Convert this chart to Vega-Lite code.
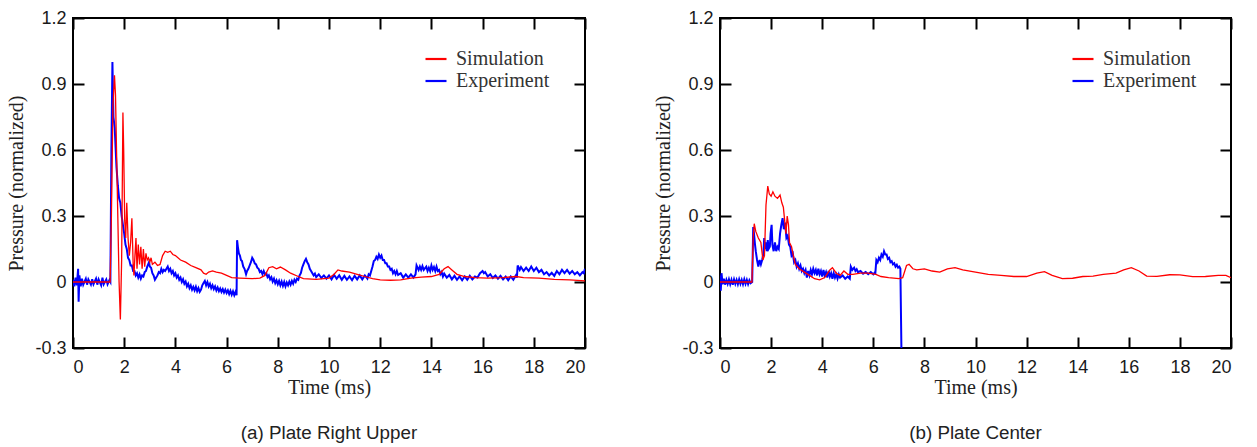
{
"$schema": "https://vega.github.io/schema/vega-lite/v6.json",
"padding": {"left": 5, "top": 8, "right": 5, "bottom": 5},
"bounds": "flush",
"spacing": 135,
"config": {
"view": {"stroke": "#000", "strokeWidth": 2},
"axis": {"domain": false, "grid": false, "tickColor": "#000", "tickWidth": 2, "tickSize": -11, "labelFont": "Liberation Sans", "labelFontSize": 18, "labelColor": "#1a1a1a", "titleFont": "Liberation Serif", "titleFontSize": 20, "titleFontWeight": "normal", "titleColor": "#222"},
"legend": {"orient": "none", "legendX": 351, "legendY": 29, "symbolType": "stroke", "symbolSize": 441, "symbolStrokeWidth": 2.2, "labelFont": "Liberation Serif", "labelFontSize": 20, "labelColor": "#333", "rowPadding": 0, "labelOffset": 8, "padding": 0},
"title": {"font": "Liberation Sans", "fontSize": 18.8, "fontWeight": "normal", "color": "#222", "orient": "bottom", "offset": 27}
},
"resolve": {"scale": {"color": "independent"}, "legend": {"color": "independent"}},
"datasets": {
"aS": [{"t":0,"v":0},{"t":1.45,"v":0},{"t":1.5,"v":0.3},{"t":1.56,"v":0.8},{"t":1.62,"v":0.94},{"t":1.66,"v":0.85},{"t":1.7,"v":0.6},{"t":1.75,"v":0.3},{"t":1.8,"v":0.0},{"t":1.85,"v":-0.17},{"t":1.9,"v":0.1},{"t":1.95,"v":0.77},{"t":1.98,"v":0.6},{"t":2.02,"v":0.28},{"t":2.06,"v":0.2},{"t":2.1,"v":0.36},{"t":2.15,"v":0.2},{"t":2.2,"v":0.12},{"t":2.25,"v":0.18},{"t":2.3,"v":0.29},{"t":2.35,"v":0.08},{"t":2.38,"v":0.03},{"t":2.42,"v":0.12},{"t":2.46,"v":0.2},{"t":2.5,"v":0.06},{"t":2.55,"v":0.17},{"t":2.6,"v":0.08},{"t":2.65,"v":0.16},{"t":2.7,"v":0.06},{"t":2.75,"v":0.15},{"t":2.8,"v":0.07},{"t":2.85,"v":0.13},{"t":2.9,"v":0.1},{"t":2.95,"v":0.11},{"t":3.0,"v":0.09},{"t":3.05,"v":0.11},{"t":3.1,"v":0.08},{"t":3.2,"v":0.09},{"t":3.3,"v":0.075},{"t":3.4,"v":0.08},{"t":3.5,"v":0.12},{"t":3.6,"v":0.14},{"t":3.7,"v":0.135},{"t":3.8,"v":0.14},{"t":3.9,"v":0.125},{"t":4.0,"v":0.12},{"t":4.2,"v":0.1},{"t":4.4,"v":0.09},{"t":4.6,"v":0.075},{"t":4.8,"v":0.065},{"t":5.0,"v":0.055},{"t":5.1,"v":0.04},{"t":5.2,"v":0.035},{"t":5.3,"v":0.045},{"t":5.45,"v":0.05},{"t":5.6,"v":0.045},{"t":5.8,"v":0.04},{"t":6.0,"v":0.03},{"t":6.2,"v":0.02},{"t":6.5,"v":0.018},{"t":7.0,"v":0.015},{"t":7.3,"v":0.018},{"t":7.5,"v":0.03},{"t":7.65,"v":0.065},{"t":7.8,"v":0.07},{"t":7.95,"v":0.06},{"t":8.1,"v":0.068},{"t":8.3,"v":0.055},{"t":8.5,"v":0.04},{"t":8.8,"v":0.025},{"t":9.0,"v":0.015},{"t":9.5,"v":0.012},{"t":10.0,"v":0.018},{"t":10.2,"v":0.035},{"t":10.35,"v":0.055},{"t":10.5,"v":0.05},{"t":10.8,"v":0.045},{"t":11.1,"v":0.035},{"t":11.4,"v":0.025},{"t":11.7,"v":0.015},{"t":12.0,"v":0.01},{"t":12.4,"v":0.008},{"t":12.8,"v":0.01},{"t":13.2,"v":0.018},{"t":13.6,"v":0.022},{"t":14.0,"v":0.025},{"t":14.3,"v":0.035},{"t":14.5,"v":0.06},{"t":14.65,"v":0.07},{"t":14.8,"v":0.055},{"t":15.0,"v":0.035},{"t":15.3,"v":0.025},{"t":15.7,"v":0.02},{"t":16.2,"v":0.018},{"t":16.8,"v":0.02},{"t":17.3,"v":0.025},{"t":17.6,"v":0.02},{"t":18.2,"v":0.018},{"t":18.8,"v":0.012},{"t":19.4,"v":0.01},{"t":20,"v":0.005}],
"aE": [{"t":0,"v":0.01},{"t":0.05,"v":-0.02},{"t":0.1,"v":0.02},{"t":0.15,"v":-0.015},{"t":0.2,"v":0.06},{"t":0.22,"v":-0.09},{"t":0.25,"v":0.03},{"t":0.3,"v":-0.02},{"t":0.35,"v":0.015},{"t":0.4,"v":-0.012},{"t":0.5,"v":0.015},{"t":0.55,"v":-0.012},{"t":0.6,"v":0.012},{"t":0.7,"v":-0.012},{"t":0.75,"v":0.012},{"t":0.8,"v":-0.01},{"t":0.9,"v":0.015},{"t":0.95,"v":-0.012},{"t":1.0,"v":0.012},{"t":1.1,"v":-0.015},{"t":1.15,"v":0.02},{"t":1.2,"v":-0.01},{"t":1.3,"v":0.012},{"t":1.35,"v":-0.01},{"t":1.42,"v":0.008},{"t":1.46,"v":0.0},{"t":1.5,"v":0.6},{"t":1.54,"v":1.0},{"t":1.58,"v":0.75},{"t":1.63,"v":0.7},{"t":1.66,"v":0.62},{"t":1.7,"v":0.52},{"t":1.75,"v":0.44},{"t":1.8,"v":0.38},{"t":1.85,"v":0.36},{"t":1.9,"v":0.3},{"t":1.95,"v":0.26},{"t":2.0,"v":0.22},{"t":2.05,"v":0.17},{"t":2.1,"v":0.15},{"t":2.15,"v":0.11},{"t":2.2,"v":0.1},{"t":2.25,"v":0.075},{"t":2.3,"v":0.075},{"t":2.35,"v":0.05},{"t":2.4,"v":0.05},{"t":2.45,"v":0.03},{"t":2.5,"v":0.04},{"t":2.55,"v":0.02},{"t":2.6,"v":0.035},{"t":2.65,"v":0.015},{"t":2.7,"v":0.03},{"t":2.75,"v":0.025},{"t":2.8,"v":0.045},{"t":2.85,"v":0.05},{"t":2.9,"v":0.07},{"t":2.97,"v":0.09},{"t":3.0,"v":0.07},{"t":3.05,"v":0.065},{"t":3.1,"v":0.04},{"t":3.15,"v":0.03},{"t":3.2,"v":0.01},{"t":3.25,"v":0.02},{"t":3.3,"v":0.03},{"t":3.35,"v":0.045},{"t":3.4,"v":0.04},{"t":3.45,"v":0.06},{"t":3.5,"v":0.045},{"t":3.55,"v":0.055},{"t":3.6,"v":0.05},{"t":3.7,"v":0.07},{"t":3.75,"v":0.05},{"t":3.8,"v":0.06},{"t":3.85,"v":0.04},{"t":3.9,"v":0.05},{"t":3.95,"v":0.03},{"t":4.0,"v":0.04},{"t":4.05,"v":0.02},{"t":4.1,"v":0.03},{"t":4.15,"v":0.01},{"t":4.2,"v":0.02},{"t":4.25,"v":0.0},{"t":4.3,"v":0.012},{"t":4.35,"v":-0.008},{"t":4.4,"v":0.002},{"t":4.45,"v":-0.02},{"t":4.5,"v":-0.008},{"t":4.55,"v":-0.028},{"t":4.6,"v":-0.015},{"t":4.65,"v":-0.035},{"t":4.7,"v":-0.022},{"t":4.75,"v":-0.038},{"t":4.8,"v":-0.022},{"t":4.85,"v":-0.042},{"t":4.9,"v":-0.028},{"t":4.95,"v":-0.045},{"t":5.0,"v":-0.035},{"t":5.05,"v":-0.015},{"t":5.1,"v":-0.005},{"t":5.15,"v":0.005},{"t":5.2,"v":-0.015},{"t":5.25,"v":0.0},{"t":5.3,"v":-0.02},{"t":5.35,"v":-0.008},{"t":5.4,"v":-0.028},{"t":5.45,"v":-0.015},{"t":5.5,"v":-0.032},{"t":5.55,"v":-0.02},{"t":5.6,"v":-0.038},{"t":5.65,"v":-0.025},{"t":5.7,"v":-0.042},{"t":5.75,"v":-0.03},{"t":5.8,"v":-0.045},{"t":5.85,"v":-0.032},{"t":5.9,"v":-0.048},{"t":5.95,"v":-0.035},{"t":6.0,"v":-0.05},{"t":6.05,"v":-0.038},{"t":6.1,"v":-0.055},{"t":6.15,"v":-0.04},{"t":6.2,"v":-0.058},{"t":6.25,"v":-0.042},{"t":6.3,"v":-0.06},{"t":6.35,"v":-0.045},{"t":6.39,"v":-0.06},{"t":6.41,"v":0.19},{"t":6.44,"v":0.16},{"t":6.48,"v":0.13},{"t":6.52,"v":0.12},{"t":6.56,"v":0.1},{"t":6.6,"v":0.095},{"t":6.65,"v":0.07},{"t":6.7,"v":0.06},{"t":6.76,"v":0.035},{"t":6.8,"v":0.05},{"t":6.85,"v":0.06},{"t":6.9,"v":0.075},{"t":6.95,"v":0.09},{"t":7.0,"v":0.11},{"t":7.05,"v":0.1},{"t":7.1,"v":0.085},{"t":7.15,"v":0.08},{"t":7.2,"v":0.065},{"t":7.25,"v":0.06},{"t":7.3,"v":0.045},{"t":7.35,"v":0.05},{"t":7.4,"v":0.035},{"t":7.45,"v":0.05},{"t":7.5,"v":0.035},{"t":7.55,"v":0.04},{"t":7.6,"v":0.022},{"t":7.65,"v":0.03},{"t":7.7,"v":0.012},{"t":7.75,"v":0.022},{"t":7.8,"v":0.002},{"t":7.85,"v":0.015},{"t":7.9,"v":-0.005},{"t":7.95,"v":0.008},{"t":8.0,"v":-0.01},{"t":8.05,"v":0.005},{"t":8.1,"v":-0.015},{"t":8.15,"v":0.002},{"t":8.2,"v":-0.018},{"t":8.25,"v":0.0},{"t":8.3,"v":-0.02},{"t":8.35,"v":-0.002},{"t":8.4,"v":-0.015},{"t":8.45,"v":0.002},{"t":8.5,"v":-0.012},{"t":8.55,"v":0.005},{"t":8.6,"v":-0.008},{"t":8.65,"v":0.01},{"t":8.7,"v":0.0},{"t":8.75,"v":0.015},{"t":8.8,"v":0.01},{"t":8.85,"v":0.03},{"t":8.9,"v":0.04},{"t":8.95,"v":0.065},{"t":9.0,"v":0.08},{"t":9.05,"v":0.095},{"t":9.1,"v":0.105},{"t":9.15,"v":0.09},{"t":9.2,"v":0.08},{"t":9.25,"v":0.06},{"t":9.3,"v":0.05},{"t":9.35,"v":0.04},{"t":9.4,"v":0.03},{"t":9.45,"v":0.038},{"t":9.5,"v":0.022},{"t":9.6,"v":0.035},{"t":9.7,"v":0.018},{"t":9.8,"v":0.03},{"t":9.9,"v":0.015},{"t":10.0,"v":0.03},{"t":10.1,"v":0.012},{"t":10.2,"v":0.032},{"t":10.3,"v":0.015},{"t":10.4,"v":0.03},{"t":10.5,"v":0.01},{"t":10.6,"v":0.028},{"t":10.7,"v":0.01},{"t":10.8,"v":0.025},{"t":10.9,"v":0.008},{"t":11.0,"v":0.028},{"t":11.1,"v":0.012},{"t":11.2,"v":0.03},{"t":11.3,"v":0.012},{"t":11.4,"v":0.03},{"t":11.5,"v":0.015},{"t":11.55,"v":0.035},{"t":11.6,"v":0.03},{"t":11.65,"v":0.05},{"t":11.7,"v":0.07},{"t":11.75,"v":0.095},{"t":11.8,"v":0.1},{"t":11.85,"v":0.115},{"t":11.9,"v":0.105},{"t":11.95,"v":0.125},{"t":12.0,"v":0.11},{"t":12.05,"v":0.12},{"t":12.1,"v":0.1},{"t":12.15,"v":0.1},{"t":12.2,"v":0.085},{"t":12.25,"v":0.085},{"t":12.3,"v":0.07},{"t":12.35,"v":0.07},{"t":12.4,"v":0.055},{"t":12.45,"v":0.06},{"t":12.5,"v":0.04},{"t":12.55,"v":0.05},{"t":12.6,"v":0.035},{"t":12.65,"v":0.05},{"t":12.7,"v":0.032},{"t":12.8,"v":0.04},{"t":12.9,"v":0.02},{"t":13.0,"v":0.035},{"t":13.1,"v":0.02},{"t":13.2,"v":0.035},{"t":13.3,"v":0.02},{"t":13.38,"v":0.035},{"t":13.42,"v":0.075},{"t":13.5,"v":0.055},{"t":13.55,"v":0.07},{"t":13.6,"v":0.055},{"t":13.65,"v":0.072},{"t":13.7,"v":0.055},{"t":13.8,"v":0.07},{"t":13.85,"v":0.05},{"t":13.9,"v":0.065},{"t":13.95,"v":0.05},{"t":14.0,"v":0.075},{"t":14.05,"v":0.055},{"t":14.1,"v":0.068},{"t":14.15,"v":0.05},{"t":14.2,"v":0.07},{"t":14.25,"v":0.05},{"t":14.3,"v":0.055},{"t":14.35,"v":0.035},{"t":14.4,"v":0.045},{"t":14.45,"v":0.025},{"t":14.5,"v":0.038},{"t":14.6,"v":0.02},{"t":14.7,"v":0.032},{"t":14.8,"v":0.012},{"t":14.9,"v":0.028},{"t":15.0,"v":0.01},{"t":15.1,"v":0.025},{"t":15.2,"v":0.008},{"t":15.3,"v":0.025},{"t":15.4,"v":0.01},{"t":15.5,"v":0.028},{"t":15.6,"v":0.012},{"t":15.7,"v":0.025},{"t":15.8,"v":0.02},{"t":15.9,"v":0.04},{"t":16.0,"v":0.05},{"t":16.05,"v":0.04},{"t":16.1,"v":0.045},{"t":16.2,"v":0.025},{"t":16.3,"v":0.035},{"t":16.4,"v":0.018},{"t":16.5,"v":0.03},{"t":16.6,"v":0.015},{"t":16.7,"v":0.028},{"t":16.8,"v":0.012},{"t":16.9,"v":0.025},{"t":17.0,"v":0.008},{"t":17.1,"v":0.025},{"t":17.2,"v":0.01},{"t":17.3,"v":0.03},{"t":17.34,"v":0.02},{"t":17.37,"v":0.075},{"t":17.45,"v":0.055},{"t":17.5,"v":0.068},{"t":17.6,"v":0.05},{"t":17.7,"v":0.065},{"t":17.8,"v":0.05},{"t":17.9,"v":0.07},{"t":18.0,"v":0.05},{"t":18.1,"v":0.065},{"t":18.2,"v":0.045},{"t":18.3,"v":0.055},{"t":18.4,"v":0.035},{"t":18.5,"v":0.045},{"t":18.6,"v":0.03},{"t":18.7,"v":0.042},{"t":18.8,"v":0.028},{"t":18.9,"v":0.05},{"t":19.0,"v":0.035},{"t":19.1,"v":0.055},{"t":19.2,"v":0.04},{"t":19.3,"v":0.055},{"t":19.4,"v":0.038},{"t":19.5,"v":0.05},{"t":19.6,"v":0.035},{"t":19.7,"v":0.045},{"t":19.8,"v":0.03},{"t":19.9,"v":0.045},{"t":19.95,"v":0.04},{"t":20.0,"v":0.06}],
"bS": [{"t":0,"v":0},{"t":1.25,"v":0},{"t":1.3,"v":0.2},{"t":1.34,"v":0.265},{"t":1.4,"v":0.23},{"t":1.5,"v":0.2},{"t":1.6,"v":0.18},{"t":1.68,"v":0.1},{"t":1.74,"v":0.12},{"t":1.8,"v":0.35},{"t":1.87,"v":0.436},{"t":1.93,"v":0.4},{"t":2.0,"v":0.39},{"t":2.07,"v":0.41},{"t":2.15,"v":0.39},{"t":2.25,"v":0.38},{"t":2.35,"v":0.395},{"t":2.42,"v":0.36},{"t":2.48,"v":0.34},{"t":2.53,"v":0.28},{"t":2.58,"v":0.22},{"t":2.63,"v":0.3},{"t":2.68,"v":0.26},{"t":2.72,"v":0.18},{"t":2.8,"v":0.16},{"t":2.87,"v":0.12},{"t":2.95,"v":0.08},{"t":3.1,"v":0.06},{"t":3.3,"v":0.045},{"t":3.5,"v":0.03},{"t":3.7,"v":0.015},{"t":3.9,"v":0.01},{"t":4.1,"v":0.02},{"t":4.3,"v":0.055},{"t":4.4,"v":0.065},{"t":4.55,"v":0.04},{"t":4.7,"v":0.03},{"t":4.85,"v":0.05},{"t":5.0,"v":0.035},{"t":5.2,"v":0.035},{"t":5.5,"v":0.04},{"t":5.8,"v":0.04},{"t":6.1,"v":0.035},{"t":6.3,"v":0.025},{"t":6.6,"v":0.02},{"t":7.0,"v":0.015},{"t":7.15,"v":0.02},{"t":7.3,"v":0.075},{"t":7.4,"v":0.08},{"t":7.55,"v":0.06},{"t":7.7,"v":0.055},{"t":8.0,"v":0.06},{"t":8.3,"v":0.05},{"t":8.6,"v":0.045},{"t":8.9,"v":0.06},{"t":9.2,"v":0.065},{"t":9.5,"v":0.055},{"t":10.0,"v":0.045},{"t":10.5,"v":0.035},{"t":11.0,"v":0.03},{"t":11.5,"v":0.025},{"t":12.0,"v":0.025},{"t":12.4,"v":0.04},{"t":12.7,"v":0.047},{"t":13.0,"v":0.03},{"t":13.4,"v":0.015},{"t":13.8,"v":0.017},{"t":14.2,"v":0.025},{"t":14.6,"v":0.027},{"t":15.0,"v":0.035},{"t":15.5,"v":0.04},{"t":15.8,"v":0.055},{"t":16.1,"v":0.065},{"t":16.4,"v":0.05},{"t":16.7,"v":0.027},{"t":17.1,"v":0.026},{"t":17.6,"v":0.033},{"t":18.0,"v":0.032},{"t":18.5,"v":0.024},{"t":19.0,"v":0.025},{"t":19.5,"v":0.03},{"t":19.8,"v":0.03},{"t":20,"v":0.02}],
"bE": [{"t":0,"v":0.03},{"t":0.03,"v":-0.04},{"t":0.06,"v":0.04},{"t":0.1,"v":-0.01},{"t":0.15,"v":0.015},{"t":0.2,"v":-0.012},{"t":0.25,"v":0.01},{"t":0.3,"v":-0.008},{"t":0.35,"v":0.012},{"t":0.4,"v":-0.01},{"t":0.45,"v":0.01},{"t":0.5,"v":-0.012},{"t":0.55,"v":0.012},{"t":0.6,"v":-0.008},{"t":0.65,"v":0.01},{"t":0.7,"v":-0.01},{"t":0.75,"v":0.012},{"t":0.8,"v":-0.008},{"t":0.85,"v":0.01},{"t":0.9,"v":-0.01},{"t":0.95,"v":0.012},{"t":1.0,"v":-0.008},{"t":1.05,"v":0.01},{"t":1.1,"v":-0.01},{"t":1.15,"v":0.008},{"t":1.2,"v":-0.005},{"t":1.26,"v":0.0},{"t":1.3,"v":0.25},{"t":1.33,"v":0.22},{"t":1.37,"v":0.17},{"t":1.4,"v":0.14},{"t":1.45,"v":0.1},{"t":1.5,"v":0.07},{"t":1.55,"v":0.1},{"t":1.6,"v":0.08},{"t":1.65,"v":0.1},{"t":1.7,"v":0.13},{"t":1.73,"v":0.2},{"t":1.76,"v":0.15},{"t":1.8,"v":0.18},{"t":1.83,"v":0.14},{"t":1.87,"v":0.19},{"t":1.9,"v":0.15},{"t":1.95,"v":0.16},{"t":1.98,"v":0.22},{"t":2.02,"v":0.26},{"t":2.05,"v":0.17},{"t":2.1,"v":0.14},{"t":2.15,"v":0.18},{"t":2.2,"v":0.14},{"t":2.25,"v":0.16},{"t":2.3,"v":0.15},{"t":2.35,"v":0.22},{"t":2.4,"v":0.26},{"t":2.45,"v":0.29},{"t":2.5,"v":0.24},{"t":2.55,"v":0.27},{"t":2.6,"v":0.2},{"t":2.65,"v":0.21},{"t":2.7,"v":0.17},{"t":2.75,"v":0.16},{"t":2.8,"v":0.12},{"t":2.85,"v":0.13},{"t":2.9,"v":0.09},{"t":2.95,"v":0.1},{"t":3.0,"v":0.07},{"t":3.05,"v":0.085},{"t":3.1,"v":0.06},{"t":3.15,"v":0.075},{"t":3.2,"v":0.05},{"t":3.25,"v":0.06},{"t":3.3,"v":0.04},{"t":3.35,"v":0.055},{"t":3.4,"v":0.02},{"t":3.45,"v":0.05},{"t":3.5,"v":0.03},{"t":3.55,"v":0.055},{"t":3.6,"v":0.035},{"t":3.65,"v":0.06},{"t":3.7,"v":0.04},{"t":3.75,"v":0.055},{"t":3.8,"v":0.03},{"t":3.85,"v":0.06},{"t":3.9,"v":0.035},{"t":3.95,"v":0.05},{"t":4.0,"v":0.025},{"t":4.05,"v":0.055},{"t":4.1,"v":0.03},{"t":4.15,"v":0.045},{"t":4.2,"v":0.02},{"t":4.25,"v":0.05},{"t":4.3,"v":0.025},{"t":4.35,"v":0.04},{"t":4.4,"v":0.015},{"t":4.45,"v":0.04},{"t":4.5,"v":0.02},{"t":4.55,"v":0.035},{"t":4.6,"v":0.015},{"t":4.65,"v":0.035},{"t":4.7,"v":0.02},{"t":4.8,"v":0.03},{"t":4.9,"v":0.015},{"t":5.0,"v":0.025},{"t":5.08,"v":0.015},{"t":5.12,"v":0.07},{"t":5.18,"v":0.055},{"t":5.25,"v":0.065},{"t":5.3,"v":0.05},{"t":5.35,"v":0.058},{"t":5.4,"v":0.045},{"t":5.5,"v":0.05},{"t":5.6,"v":0.038},{"t":5.7,"v":0.045},{"t":5.8,"v":0.035},{"t":5.9,"v":0.045},{"t":6.0,"v":0.035},{"t":6.05,"v":0.042},{"t":6.08,"v":0.04},{"t":6.12,"v":0.1},{"t":6.17,"v":0.09},{"t":6.22,"v":0.11},{"t":6.27,"v":0.1},{"t":6.32,"v":0.125},{"t":6.37,"v":0.115},{"t":6.42,"v":0.14},{"t":6.47,"v":0.125},{"t":6.52,"v":0.125},{"t":6.57,"v":0.105},{"t":6.62,"v":0.11},{"t":6.67,"v":0.09},{"t":6.72,"v":0.095},{"t":6.77,"v":0.08},{"t":6.82,"v":0.085},{"t":6.87,"v":0.07},{"t":6.92,"v":0.078},{"t":6.97,"v":0.065},{"t":7.02,"v":0.07},{"t":7.06,"v":0.06},{"t":7.1,"v":-0.3}]
},
"hconcat": [
{
"width": 512, "height": 330,
"title": {"text": "(a) Plate Right Upper"},
"layer": [
{"data": {"name": "aE"}, "mark": {"type": "line", "strokeWidth": 2, "clip": true},
"encoding": {
"x": {"field": "t", "type": "quantitative", "scale": {"domain": [0, 20], "nice": false}, "axis": {"orient": "bottom", "values": [0,2,4,6,8,10,12,14,16,18,20], "title": "Time (ms)", "labelPadding": 21, "titlePadding": 1}},
"y": {"field": "v", "type": "quantitative", "scale": {"domain": [-0.3, 1.2], "nice": false, "zero": false}, "axis": {"orient": "left", "values": [-0.3,0,0.3,0.6,0.9,1.2], "labelExpr": "datum.value < 0 ? '-' + format(-datum.value, '.1f') : (datum.value == 0 ? '0' : format(datum.value, '.1f'))", "labelPadding": 18, "title": "Pressure (normalized)", "titlePadding": 8}},
"color": {"datum": "Experiment", "type": "nominal", "scale": {"domain": ["Simulation", "Experiment"], "range": ["#ff0000", "#0000ff"]}, "legend": {"title": null, "rowPadding": 0, "symbolSize": 441}}
}},
{"data": {"name": "aS"}, "mark": {"type": "line", "strokeWidth": 1.3, "clip": true},
"encoding": {
"x": {"field": "t", "type": "quantitative", "axis": {"orient": "top", "values": [0,2,4,6,8,10,12,14,16,18,20], "labels": false, "title": null}},
"y": {"field": "v", "type": "quantitative", "axis": {"orient": "right", "values": [-0.3,0,0.3,0.6,0.9,1.2], "labels": false, "title": null}},
"color": {"datum": "Simulation", "type": "nominal"}
}}
],
"resolve": {"axis": {"x": "independent", "y": "independent"}}
},
{
"width": 511, "height": 330,
"title": {"text": "(b) Plate Center"},
"layer": [
{"data": {"name": "bE"}, "mark": {"type": "line", "strokeWidth": 2, "clip": true},
"encoding": {
"x": {"field": "t", "type": "quantitative", "scale": {"domain": [0, 20], "nice": false}, "axis": {"orient": "bottom", "values": [0,2,4,6,8,10,12,14,16,18,20], "title": "Time (ms)", "labelPadding": 21, "titlePadding": 1}},
"y": {"field": "v", "type": "quantitative", "scale": {"domain": [-0.3, 1.2], "nice": false, "zero": false}, "axis": {"orient": "left", "values": [-0.3,0,0.3,0.6,0.9,1.2], "labelExpr": "datum.value < 0 ? '-' + format(-datum.value, '.1f') : (datum.value == 0 ? '0' : format(datum.value, '.1f'))", "labelPadding": 18, "title": "Pressure (normalized)", "titlePadding": 8}},
"color": {"datum": "Experiment", "type": "nominal", "scale": {"domain": ["Simulation", "Experiment"], "range": ["#ff0000", "#0000ff"]}, "legend": {"title": null, "rowPadding": 0, "symbolSize": 441}}
}},
{"data": {"name": "bS"}, "mark": {"type": "line", "strokeWidth": 1.3, "clip": true},
"encoding": {
"x": {"field": "t", "type": "quantitative", "axis": {"orient": "top", "values": [0,2,4,6,8,10,12,14,16,18,20], "labels": false, "title": null}},
"y": {"field": "v", "type": "quantitative", "axis": {"orient": "right", "values": [-0.3,0,0.3,0.6,0.9,1.2], "labels": false, "title": null}},
"color": {"datum": "Simulation", "type": "nominal"}
}}
],
"resolve": {"axis": {"x": "independent", "y": "independent"}}
}
]
}
